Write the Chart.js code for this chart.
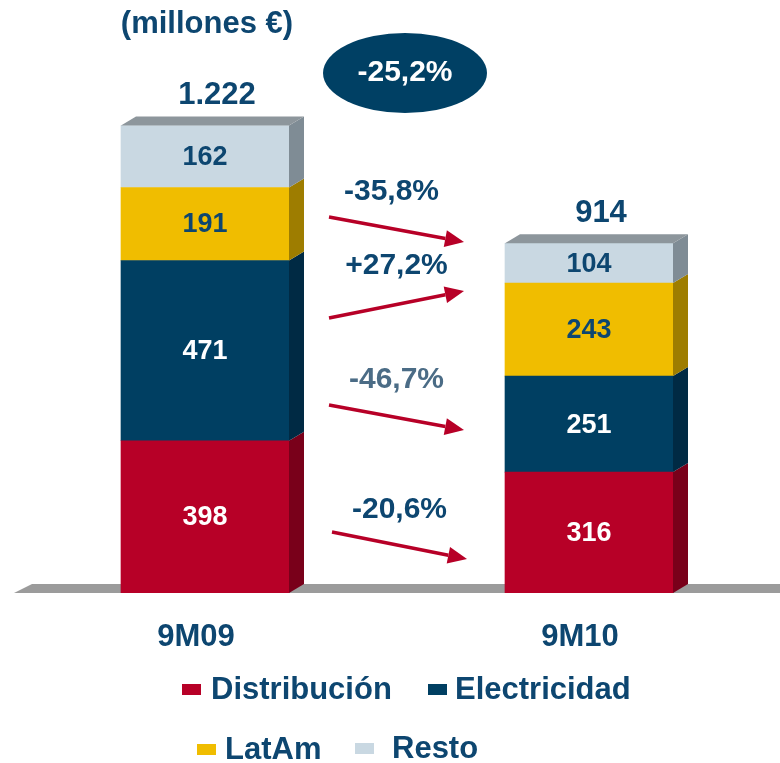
<!DOCTYPE html>
<html>
<head>
<meta charset="utf-8">
<script src="https://cdn.jsdelivr.net/npm/chart.js@4/dist/chart.umd.min.js"></script>
<style>
  html, body { margin: 0; padding: 0; background: #fff; overflow: hidden; }
</style>
</head>
<body>
<canvas id="chart" width="780" height="763"></canvas>
<script>
var periods = ["9M09", "9M10"];
var seriesNames = ["Distribución", "Electricidad", "LatAm", "Resto"];
var distribucion = [398, 316];
var electricidad = [471, 251];
var latam = [191, 243];
var resto = [162, 104];
var totals = ["1.222", "914"];
// change 9M09 -> 9M10, same order as seriesNames
var changes = ["-20,6%", "-46,7%", "+27,2%", "-35,8%"];
var totalChange = "-25,2%";
var unitTitle = "(millones €)";

var frontColors = ["#b70027", "#003f62", "#f0bd00", "#c9d8e2"];
var sideColors = ["#79001a", "#002a44", "#9e7d00", "#7f8c95"];
var labelColors = ["#ffffff", "#ffffff", "#0d4670", "#0d4670"];
var navy = "#0d4670";
var FONT = "'Liberation Sans', Arial, sans-serif";
var DX = 15, DY = 9; // 3d depth

function makeData(vals) {
  var out = [];
  for (var i = 0; i < vals.length; i++) out.push({ x: i, y: vals[i] });
  return out;
}

function text(ctx, s, x, y, size, color, align) {
  ctx.save();
  ctx.font = "bold " + size + "px " + FONT;
  ctx.fillStyle = color;
  ctx.textAlign = align || "center";
  ctx.textBaseline = "middle";
  ctx.fillText(s, x, y);
  ctx.restore();
}

function arrow(ctx, x1, y1, x2, y2) {
  var ang = Math.atan2(y2 - y1, x2 - x1);
  var len = 19, half = 8.5;
  var bx = x2 - len * Math.cos(ang), by = y2 - len * Math.sin(ang);
  ctx.save();
  ctx.strokeStyle = "#b70027";
  ctx.fillStyle = "#b70027";
  ctx.lineWidth = 3.5;
  ctx.beginPath();
  ctx.moveTo(x1, y1);
  ctx.lineTo(bx, by);
  ctx.stroke();
  ctx.beginPath();
  ctx.moveTo(x2, y2);
  ctx.lineTo(bx + half * Math.sin(ang), by - half * Math.cos(ang));
  ctx.lineTo(bx - half * Math.sin(ang), by + half * Math.cos(ang));
  ctx.closePath();
  ctx.fill();
  ctx.restore();
}

var deco = {
  id: "deco",
  beforeDatasetsDraw: function(chart) {
    var ctx = chart.ctx, a = chart.chartArea;
    var y0 = chart.scales.y.getPixelForValue(0);
    // floor
    ctx.save();
    ctx.fillStyle = "#9b9b9b";
    ctx.beginPath();
    ctx.moveTo(a.left + 14, y0);
    ctx.lineTo(a.left + 14 + 18, y0 - DY);
    ctx.lineTo(a.right, y0 - DY);
    ctx.lineTo(a.right, y0);
    ctx.closePath();
    ctx.fill();
    ctx.restore();
  },
  afterDatasetsDraw: function(chart) {
    var ctx = chart.ctx;
    var n = chart.data.datasets.length;

    // side faces
    for (var d = 0; d < n; d++) {
      var meta = chart.getDatasetMeta(d);
      for (var i = 0; i < meta.data.length; i++) {
        var p = meta.data[i].getProps(["x", "y", "base", "width"], true);
        var r = p.x + p.width / 2;
        ctx.fillStyle = sideColors[d];
        ctx.beginPath();
        ctx.moveTo(r, p.y);
        ctx.lineTo(r + DX, p.y - DY);
        ctx.lineTo(r + DX, p.base - DY);
        ctx.lineTo(r, p.base);
        ctx.closePath();
        ctx.fill();
      }
    }

    // top faces + totals
    var topMeta = chart.getDatasetMeta(n - 1);
    for (var i = 0; i < topMeta.data.length; i++) {
      var p = topMeta.data[i].getProps(["x", "y", "base", "width"], true);
      var l = p.x - p.width / 2, r = p.x + p.width / 2;
      ctx.fillStyle = "#8d969c";
      ctx.beginPath();
      ctx.moveTo(l, p.y);
      ctx.lineTo(l + DX, p.y - DY);
      ctx.lineTo(r + DX, p.y - DY);
      ctx.lineTo(r, p.y);
      ctx.closePath();
      ctx.fill();
      text(ctx, totals[i], p.x + 12, p.y - 30, 31, navy);
    }

    // segment labels
    for (var d = 0; d < n; d++) {
      var meta = chart.getDatasetMeta(d);
      for (var i = 0; i < meta.data.length; i++) {
        var p = meta.data[i].getProps(["x", "y", "base"], true);
        text(ctx, String(chart.data.datasets[d].data[i].y), p.x, (p.y + p.base) / 2 + 1, 27, labelColors[d]);
      }
    }

    // category labels
    var xs = chart.scales.x;
    var y0 = chart.scales.y.getPixelForValue(0);
    for (var i = 0; i < periods.length; i++) {
      text(ctx, periods[i], xs.getPixelForValue(i) - 9, y0 + 44, 31, navy);
    }

    // change arrows between the two bars (top to bottom: Resto, LatAm, Electricidad, Distribución)
    var b1 = chart.getDatasetMeta(0).data[0].getProps(["x", "width"], true);
    var b2 = chart.getDatasetMeta(0).data[1].getProps(["x", "width"], true);
    var sx = b1.x + b1.width / 2 + 40;
    var ex = b2.x - b2.width / 2 - 41;
    var rows = [
      { i: 3, y1: 217, y2: 242, ty: 192, tc: navy },
      { i: 2, y1: 318, y2: 291, ty: 266, tc: navy },
      { i: 1, y1: 405, y2: 430, ty: 380, tc: "#4b6c86" },
      { i: 0, y1: 532, y2: 559, ty: 510, tc: navy }
    ];
    for (var k = 0; k < rows.length; k++) {
      var rw = rows[k];
      var off = k === 3 ? 3 : 0;
      arrow(ctx, sx + off, rw.y1, ex + off, rw.y2);
      text(ctx, changes[rw.i], (sx + ex) / 2 + (k === 0 ? -5 : 0) + off, rw.ty, 30, rw.tc);
    }

    // total change bubble
    ctx.save();
    ctx.fillStyle = "#004064";
    ctx.beginPath();
    ctx.ellipse(405, 73, 82, 40, 0, 0, Math.PI * 2);
    ctx.fill();
    ctx.restore();
    text(ctx, totalChange, 405, 73, 30, "#ffffff");

    // unit title
    text(ctx, unitTitle, 207, 24, 31, navy);

    // legend
    var leg = [
      { bx: 182, tx: 211, y: 689 },
      { bx: 428, tx: 455, y: 689 },
      { bx: 197, tx: 225, y: 749 },
      { bx: 355, tx: 392, y: 748 }
    ];
    for (var k = 0; k < leg.length; k++) {
      ctx.fillStyle = frontColors[k];
      ctx.fillRect(leg[k].bx, leg[k].y - 5, 19, 11);
      text(ctx, seriesNames[k], leg[k].tx, leg[k].y + 1, 31, navy, "left");
    }
  }
};

var seriesValues = [distribucion, electricidad, latam, resto];
var datasets = [];
for (var d = 0; d < seriesNames.length; d++) {
  datasets.push({
    label: seriesNames[d],
    data: makeData(seriesValues[d]),
    backgroundColor: frontColors[d],
    borderWidth: 0,
    barThickness: 168
  });
}

new Chart(document.getElementById("chart"), {
  type: "bar",
  data: { datasets: datasets },
  options: {
    responsive: false,
    animation: false,
    devicePixelRatio: 1,
    layout: { padding: { left: 0, right: 0, top: 0, bottom: 170 } },
    plugins: { legend: { display: false }, tooltip: { enabled: false } },
    scales: {
      x: { type: "linear", display: false, offset: false, stacked: true, min: -205 / 384, max: -205 / 384 + 780 / 384 },
      y: { display: false, stacked: true, min: 0, max: 1550 }
    }
  },
  plugins: [deco]
});
</script>
</body>
</html>
